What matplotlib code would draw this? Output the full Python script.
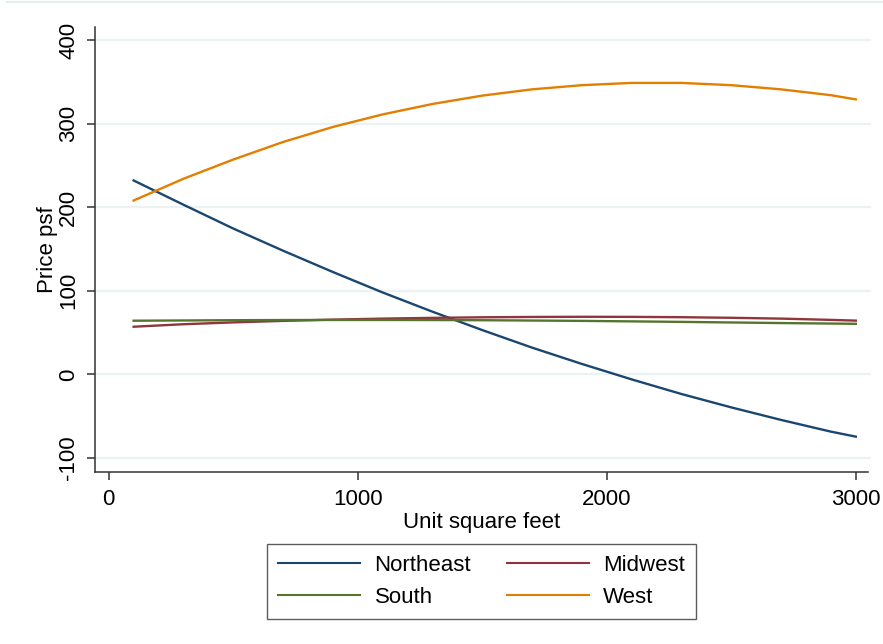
import matplotlib
matplotlib.use("Agg")
import matplotlib.pyplot as plt
from matplotlib.lines import Line2D

plt.rcParams['font.family'] = ['Liberation Sans', 'DejaVu Sans']

# Data
sqft = [100, 300, 500, 700, 900, 1100, 1300, 1500, 1700, 1900, 2100, 2300, 2500, 2700, 2900, 3000]
northeast = [232, 203, 174.5, 148, 122.5, 98, 75, 53, 32, 12.5, -6, -23.5, -39.5, -54.5, -68.5, -74.5]
midwest = [57, 60, 62.2, 64, 65.5, 66.7, 67.6, 68.3, 68.7, 68.9, 68.8, 68.4, 67.7, 66.7, 65.2, 64.3]
south = [64.2, 64.5, 64.8, 65, 65.1, 65.1, 65, 64.8, 64.4, 64, 63.4, 62.8, 62.1, 61.4, 60.8, 60.5]
west = [208, 234, 257, 278, 296, 311, 323.5, 333.5, 341, 346, 348.7, 348.7, 346, 341, 334, 329]

series_names = ["Northeast", "Midwest", "South", "West"]
series_vals = [northeast, midwest, south, west]
colors = ["#1a476f", "#90353b", "#55752f", "#e37e00"]

xticks = [0, 1000, 2000, 3000]
yticks = [-100, 0, 100, 200, 300, 400]

W, H = 883, 644
fig = plt.figure(figsize=(W / 100, H / 100), dpi=100)
fig.patch.set_facecolor("white")

ax = fig.add_axes([95 / W, 1 - 472 / H, (868 - 95) / W, (472 - 27) / H])
ax.set_xlim(-55, 3049)
ax.set_ylim(-116.8, 415.6)

for yt in yticks:
    ax.axhline(yt, color="#eaf2f3", lw=1.6, zorder=0, xmax=1.003, clip_on=False)

handles = []
for name, vals, c in zip(series_names, series_vals, colors):
    h, = ax.plot(sqft, vals, color=c, lw=1.7, label=name, zorder=3)
    handles.append(h)

for s in ["top", "right"]:
    ax.spines[s].set_visible(False)
for s in ["left", "bottom"]:
    ax.spines[s].set_color("#333333")
    ax.spines[s].set_linewidth(1.1)

fs = 16
ax.set_xticks(xticks)
ax.set_xticklabels([str(v) for v in xticks])
ax.set_yticks(yticks)
ax.set_yticklabels([str(v) for v in yticks], rotation=90, va="center")
ax.tick_params(axis="both", labelsize=fs, length=5.5, width=1.1, color="#333333", labelcolor="black")
ax.tick_params(axis="y", pad=6)
ax.tick_params(axis="x", pad=7)

ax.set_xlabel("Unit square feet", fontsize=fs, labelpad=1)
ax.set_ylabel("Price psf", fontsize=fs, labelpad=0)

# legend order: Northeast, Midwest / South, West (row-wise)
order = [0, 2, 1, 3]
leg = fig.legend([handles[i] for i in order], [series_names[i] for i in order],
                 ncol=2, loc="upper center", bbox_to_anchor=(481.5 / W, 1 - 544 / H),
                 fontsize=fs, frameon=True, fancybox=False, edgecolor="#333333",
                 handlelength=3.7, handletextpad=0.65, columnspacing=1.6,
                 labelspacing=0.48, borderpad=0.5, borderaxespad=0)
leg.get_frame().set_linewidth(1.0)
for ln in leg.get_lines():
    ln.set_linewidth(1.5)

# faint outer border line at top
fig.add_artist(Line2D([7 / W, 1], [1 - 2 / H, 1 - 2 / H], transform=fig.transFigure,
                      color="#e6eef0", lw=1.5))

fig.savefig("out.png", dpi=100, facecolor="white")
